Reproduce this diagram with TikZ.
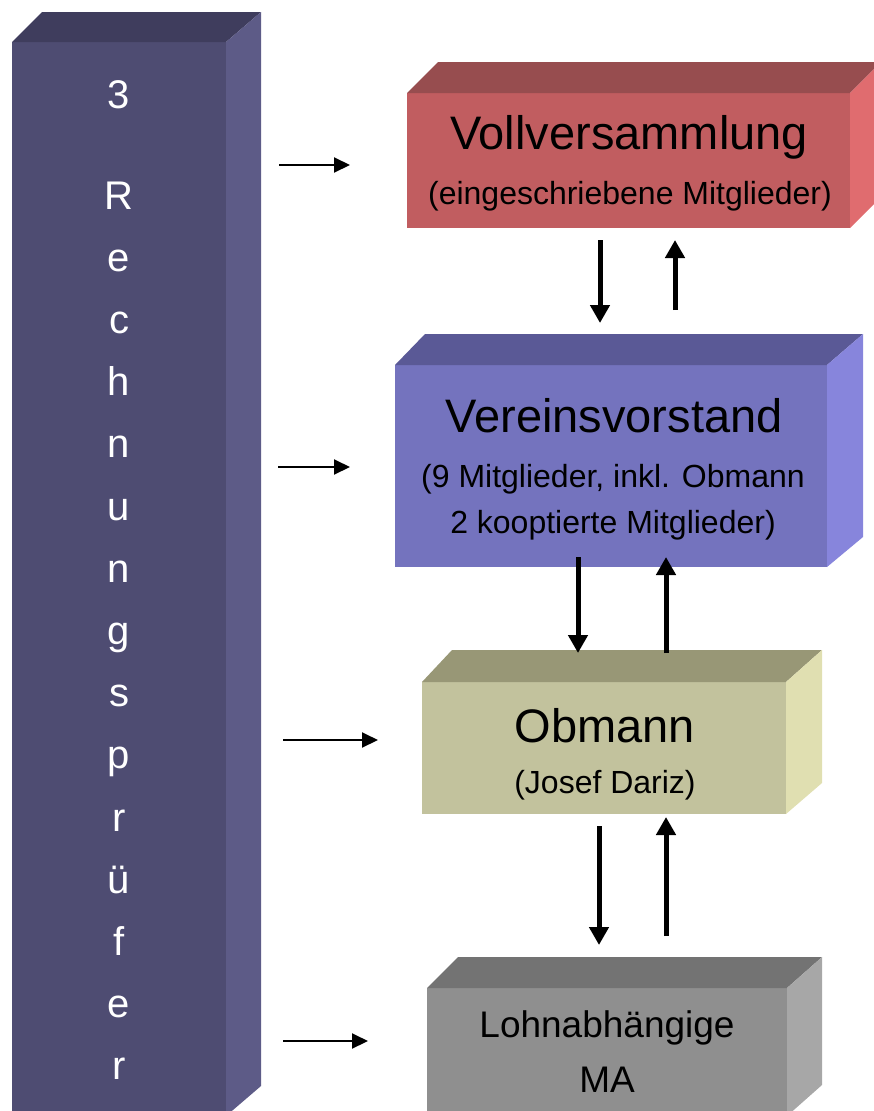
\documentclass[tikz,border=0pt]{standalone}
\usepackage{fontspec}
\setmainfont{Liberation Sans}
\usetikzlibrary{arrows.meta}
\definecolor{colFront}{HTML}{4E4C72}
\definecolor{colTop}{HTML}{3F3D5D}
\definecolor{colSide}{HTML}{5D5B87}
\definecolor{redFront}{HTML}{C15D60}
\definecolor{redTop}{HTML}{974D4F}
\definecolor{redSide}{HTML}{E06C6F}
\definecolor{bluFront}{HTML}{7473BE}
\definecolor{bluTop}{HTML}{5A5996}
\definecolor{bluSide}{HTML}{8785DC}
\definecolor{oliFront}{HTML}{C2C29D}
\definecolor{oliTop}{HTML}{989776}
\definecolor{oliSide}{HTML}{E0DFB1}
\definecolor{gryFront}{HTML}{8F8F8F}
\definecolor{gryTop}{HTML}{737373}
\definecolor{grySide}{HTML}{A7A7A7}
\tikzset{
  face/.style={rectangle, draw=none, inner sep=0pt, outer sep=0pt, anchor=north west},
  coltxt/.style={anchor=base, inner sep=0pt, text=white, font=\fontsize{40}{48}\selectfont},
  titletxt/.style={anchor=base, inner sep=0pt, text=black, font=\fontsize{47}{56}\selectfont},
  subtxt/.style={anchor=base, inner sep=0pt, text=black, font=\fontsize{32}{38}\selectfont},
  midtxt/.style={anchor=base, inner sep=0pt, text=black, font=\fontsize{37}{44}\selectfont},
  thickarrow/.style={line width=5pt, -{Triangle[length=18pt,width=19pt]}},
  thinarrow/.style={line width=2pt, -{Triangle[length=16pt,width=15pt]}}
}
\begin{document}
\begin{tikzpicture}[x=1pt,y=-1pt]
\useasboundingbox (0,0) rectangle (874,1111);
\clip (0,0) rectangle (874,1111);

% ---- left column
\node[face, fill=colFront, minimum width=214pt, minimum height=1074pt] (col) at (12,42) {};
\fill[colTop] (col.north west) -- ++(30,-30) -- ++(219,0) -- (col.north east) -- cycle;
\fill[colSide] (col.north east) -- ++(35,-30) -- ++(0,1074) -- (col.south east) -- cycle;
\node[coltxt] (c3) at (119,108) {3};
\foreach \ch [count=\i from 0] in {R,e,c,h,n,u,n,g,s,p,r,ü,f,e,r}
  \node[coltxt] (l\i) at (119,{209+62.2*\i}) {\ch};

% ---- Vollversammlung
\node[face, fill=redFront, minimum width=443pt, minimum height=135pt] (voll) at (407,93) {};
\fill[redTop] (voll.north west) -- ++(31,-31) -- ++(443,0) -- (voll.north east) -- cycle;
\fill[redSide] (voll.north east) -- ++(31,-31) -- ++(0,135) -- (voll.south east) -- cycle;
\node[titletxt] (vollT) at (629,149) {Vollversammlung};
\node[subtxt] (vollS) at (630,204) {(eingeschriebene Mitglieder)};

% ---- Vereinsvorstand
\node[face, fill=bluFront, minimum width=432pt, minimum height=202pt] (ver) at (395,365) {};
\fill[bluTop] (ver.north west) -- ++(30,-31) -- ++(438,0) -- (ver.north east) -- cycle;
\fill[bluSide] (ver.north east) -- ++(36,-31) -- ++(0,203) -- (ver.south east) -- cycle;
\node[titletxt] (verT) at (614,432) {Vereinsvorstand};
\node[subtxt] (verS1) at (613,487) {(9 Mitglieder, inkl. Obmann};
\node[subtxt] (verS2) at (613,533) {2 kooptierte Mitglieder)};

% ---- Obmann
\node[face, fill=oliFront, minimum width=364pt, minimum height=132pt] (obm) at (422,682) {};
\fill[oliTop] (obm.north west) -- ++(30,-32) -- ++(370,0) -- (obm.north east) -- cycle;
\fill[oliSide] (obm.north east) -- ++(36,-32) -- ++(0,133) -- (obm.south east) -- cycle;
\node[titletxt] (obmT) at (605,742) {Obmann};
\node[subtxt] (obmS) at (605,793) {(Josef Dariz)};

% ---- Lohnabhaengige MA
\node[face, fill=gryFront, minimum width=360pt, minimum height=128pt] (lohn) at (427,988) {};
\fill[gryTop] (lohn.north west) -- ++(31,-31) -- ++(364,0) -- (lohn.north east) -- cycle;
\fill[grySide] (lohn.north east) -- ++(35,-31) -- ++(0,128) -- (lohn.south east) -- cycle;
\node[midtxt] (lohnT) at (607,1037) {Lohnabhängige};
\node[midtxt] (lohnS) at (607,1092) {MA};

% ---- arrow end points
\coordinate (a1s) at (600,240); \coordinate (a1e) at (600,323);
\coordinate (a2s) at (675,310); \coordinate (a2e) at (675,240);
\coordinate (a3s) at (578,557); \coordinate (a3e) at (578,653);
\coordinate (a4s) at (666,653); \coordinate (a4e) at (666,557);
\coordinate (a5s) at (599,826); \coordinate (a5e) at (599,945);
\coordinate (a6s) at (666,936); \coordinate (a6e) at (666,817);
\coordinate (h1s) at (279,165); \coordinate (h1e) at (350,165);
\coordinate (h2s) at (278,467); \coordinate (h2e) at (350,467);
\coordinate (h3s) at (283,740); \coordinate (h3e) at (378,740);
\coordinate (h4s) at (283,1041); \coordinate (h4e) at (368,1041);

\draw[thickarrow] (a1s) -- (a1e);
\draw[thickarrow] (a2s) -- (a2e);
\draw[thickarrow] (a3s) -- (a3e);
\draw[thickarrow] (a4s) -- (a4e);
\draw[thickarrow] (a5s) -- (a5e);
\draw[thickarrow] (a6s) -- (a6e);
\draw[thinarrow] (h1s) -- (h1e);
\draw[thinarrow] (h2s) -- (h2e);
\draw[thinarrow] (h3s) -- (h3e);
\draw[thinarrow] (h4s) -- (h4e);
\end{tikzpicture}
\end{document}
